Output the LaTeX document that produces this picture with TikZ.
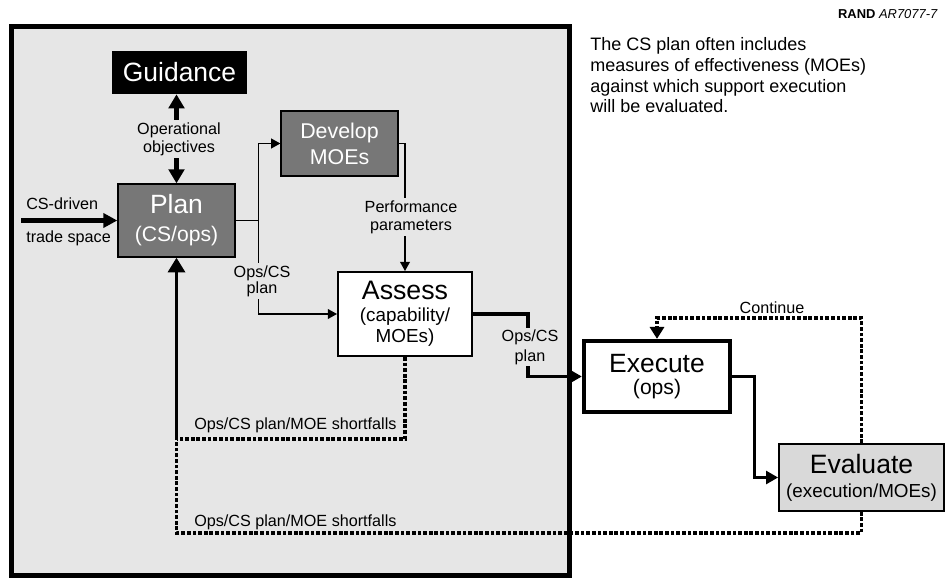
\documentclass[tikz,border=0pt]{standalone}
\usepackage{fontspec}
\setmainfont{Liberation Sans}
\usetikzlibrary{arrows.meta, positioning}
\definecolor{framegray}{HTML}{E6E6E6}
\definecolor{boxgray}{HTML}{777777}
\definecolor{evalgray}{HTML}{D9D9D9}

\newcommand{\fsz}[2]{\fontsize{#1}{#2}\selectfont}

\begin{document}
\begin{tikzpicture}[x=0.025cm, y=-0.025cm,
    every node/.style={inner sep=0pt, align=center},
    darkbox/.style={draw=black, line width=0.9pt, fill=boxgray, text=white},
    lbl/.style={fill=framegray, inner sep=1.5pt, font={\fsz{11.5}{13}}},
    txt/.style={font={\fsz{11.5}{13}}},
    fatline/.style={line width=3pt},
    midline/.style={line width=2.2pt, -{Triangle[length=8.5pt,width=9pt]}},
    thinline/.style={line width=0.8pt, -{Triangle[length=6.5pt,width=7pt]}},
    dotline/.style={line width=2.6pt, dash pattern=on 2.6pt off 1.4pt}]

    \useasboundingbox (0,0) rectangle (945,578);

    % grey planning region
    \draw[line width=3.5pt, fill=framegray] (11.5,26.5) rectangle (569.5,575.5);

    % boxes
    \node[fill=black, text=white, minimum width=3.375cm, minimum height=1.075cm,
        font={\fsz{18.8}{22}}] (guidance) at (179.5,72.5) {Guidance};
    \node[darkbox, minimum width=2.925cm, minimum height=1.825cm,
        font={\fsz{15}{19.9}}] (plan) at (176.5,220.5) {{\fsz{18.8}{22}Plan}\\(CS/ops)};
    \node[darkbox, minimum width=2.925cm, minimum height=1.625cm,
        font={\fsz{15.2}{18.4}}] (develop) at (339.5,143.5) {Develop\\MOEs};
    \node[draw, line width=1.4pt, fill=white, minimum width=3.35cm, minimum height=2.1cm,
        font={\fsz{13.4}{15.3}}] (assess) at (405,314) {{\fsz{19}{22}Assess}\\(capability/\\MOEs)};
    \node[draw, line width=3pt, fill=white, minimum width=3.65cm, minimum height=1.775cm,
        font={\fsz{15}{15.6}}] (execute) at (657,376.5) {{\fsz{18.8}{22}Execute}\\(ops)};
    \node[draw, line width=1.2pt, fill=evalgray, minimum width=4.125cm, minimum height=1.675cm,
        font={\fsz{13.4}{17}}] (evaluate) at (861.5,477.5) {{\fsz{18.9}{22}Evaluate}\\(execution/MOEs)};

    % connectors
    \coordinate (csin) at (21,220.5);
    \draw[fatline, -{Triangle[length=10pt,width=10pt]}] (csin) -- (plan.west);
    \draw[fatline, {Triangle[length=10pt,width=11pt]}-{Triangle[length=10pt,width=11pt]}]
        (plan.north |- guidance.south) -- (plan.north);
    \draw[thinline] (plan.east) -- ++(23,0) coordinate (split) |- (develop.west);
    \draw[thinline] (split) |- (assess.west);
    \draw[thinline] (develop.east) -| (assess.north);
    \draw[midline] (assess.east) -- ++(55,0) |- (execute.west);
    \draw[midline] (execute.east) -- ++(22,0) |- (evaluate.west);
    \draw[dotline, -{Triangle[length=8.5pt,width=10pt]}]
        (evaluate.north) -- ++(0,-125) -| (execute.north);
    \draw[dotline] (assess.south) -- ++(0,82) coordinate (a1)
        -- (a1 -| plan.south) coordinate (sf);
    \draw[dotline] (evaluate.south) -- ++(0,21) coordinate (e1)
        -- (e1 -| plan.south) -- (sf);
    \draw[fatline, line width=2.8pt, -{Triangle[length=10.5pt,width=12pt]}] (sf) -- (plan.south);

    % labels
    \node[lbl] (opobj) at (179,139) {Operational\\objectives};
    \node[lbl] (perf) at (411,217) {Performance\\parameters};
    \node[lbl, font={\fsz{11.5}{11.3}}] (opsplan) at (262,281) {Ops/CS\\plan};
    \node[lbl, font={\fsz{11.5}{14}}] (opsplan2) at (530,347) {Ops/CS\\plan};
    \node[txt, anchor=base west] (csdriven) at (26,209) {CS-driven};
    \node[txt, anchor=base west] (trade) at (26,242) {trade space};
    \node[txt, anchor=base west] (short1) at (194,429) {Ops/CS plan/MOE shortfalls};
    \node[txt, anchor=base west] (short2) at (194,526) {Ops/CS plan/MOE shortfalls};
    \node[txt, anchor=base] (cont) at (772,313) {Continue};

    % note and tag
    \node[anchor=north west, align=left, font={\fsz{12.8}{14.7}}] (note) at (590,37.5)
        {The CS plan often includes\\measures of effectiveness (MOEs)\\against which support execution\\will be evaluated.};
    \node[anchor=base east, font={\fsz{9.2}{11}}] (tag) at (938,18.5)
        {\textbf{RAND} \textit{AR7077-7}};

\end{tikzpicture}
\end{document}
